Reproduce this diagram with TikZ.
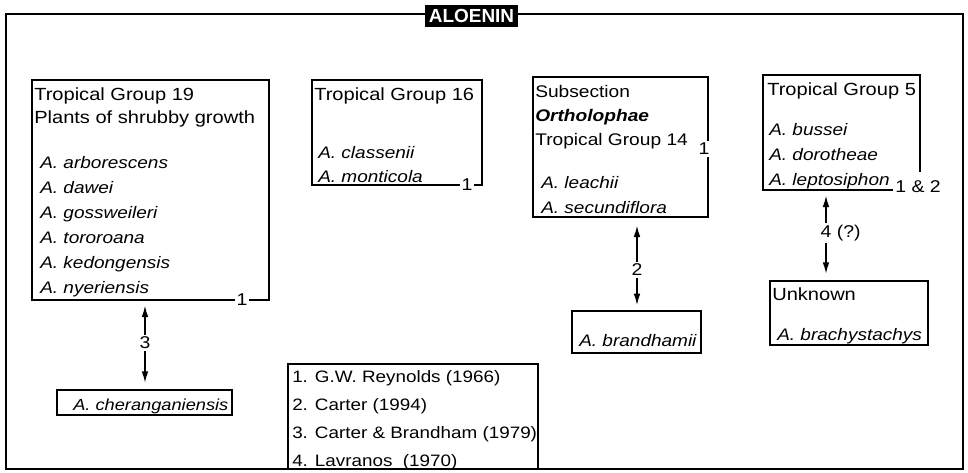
\documentclass[tikz,border=0pt]{standalone}
\usepackage{fontspec}
\setmainfont{Liberation Sans}[FakeStretch=1.14]
\newfontfamily\titlefont{Liberation Sans}
\usetikzlibrary{fit,arrows.meta}

\begin{document}
\begin{tikzpicture}
        [x=0.75pt,y=-0.75pt,
        box/.style={draw,line width=1pt,inner sep=0pt},
        txt/.style={anchor=base west,inner sep=0pt,align=left,font=\fontsize{13.2}{#1}\selectfont},
        species/.style={anchor=base west,inner sep=0pt,align=left,font=\fontsize{12.5}{#1}\selectfont\itshape},
        numlab/.style={fill=white,inner sep=1.5pt,font=\fontsize{12.8}{15}\selectfont},
        link/.style={line width=1pt,-{Latex[length=8.5pt,width=5pt]}}]
        \useasboundingbox (0,0) rectangle (968,472);
        \draw[line width=1.5pt] (6,14) rectangle (963,469);
        \node[fill=black,text=white,inner xsep=3pt,minimum height=17pt,
            font=\titlefont\bfseries\fontsize{14.2}{16}\selectfont] (title) at (471.5,16) {ALOENIN};
        % group boxes
        \node[box,fit={(32,80) (269,300)}] (g19) {};
        \node[box,fit={(312,80) (482,185)}] (g16) {};
        \node[box,fit={(533,77) (708,217)}] (g14) {};
        \node[box,fit={(763,75) (920,190)}] (g5) {};
        \node[box,fit={(57,390) (232,415)}] (cher) {};
        \node[box,fit={(572,311) (701,353)}] (brand) {};
        \node[box,fit={(770,281) (928,345)}] (unk) {};
        \node[box,fit={(288,364) (538,469)}] (refs) {};
        % texts (placed by the baseline of their last line)
        \node[txt=17.25pt] (g19h) at (34,123) {Tropical Group 19\\Plants of shrubby growth};
        \node[species=18.75pt] (g19s) at (40,293) {A. arborescens\\A. dawei\\A. gossweileri\\A. tororoana\\A. kedongensis\\A. nyeriensis};
        \node[txt=18pt] (g16h) at (314,100) {Tropical Group 16};
        \node[species=18pt] (g16s) at (318,182) {A. classenii\\A. monticola};
        \node[txt=18pt,font=\fontsize{12.6}{18}\selectfont] (g14h) at (535,145) {Subsection\\\textbf{\textit{Ortholophae}}\\Tropical Group 14};
        \node[species=18.75pt] (g14s) at (541,213) {A. leachii\\A. secundiflora};
        \node[txt=18pt] (g5h) at (767,95) {Tropical Group 5};
        \node[species=18.75pt] (g5s) at (769,185) {A. bussei\\A. dorotheae\\A. leptosiphon};
        \node[txt=18pt] (unkh) at (772,300) {Unknown};
        \node[species=18pt] (unks) at (777,340) {A. brachystachys};
        \node[species=18pt] (brands) at (579,346) {A. brandhamii};
        \node[species=18pt,font=\fontsize{12}{15}\selectfont\itshape] (chers) at (73,410) {A. cheranganiensis};
        \node[txt=20.8pt,font=\fontsize{12.4}{20.8}\selectfont] (refst) at (292,466) {1. G.W. Reynolds (1966)\\2. Carter (1994)\\3. Carter \& Brandham (1979)\\4. Lavranos\ \ (1970)};
        % reference numbers on the boxes
        \node[numlab] (n19) at (242,300) {1};
        \node[numlab] (n16) at (467,185) {1};
        \node[numlab] (n14) at (704,149) {1};
        \node[numlab,inner ysep=7pt] (n5) at (918,187) {1 \& 2};
        % links
        \node[numlab] (l3) at (145,343) {3};
        \node[numlab] (l2) at (637,270) {2};
        \node[numlab] (l4) at (826,233) {4\rlap{ (?)}};
        \draw[link,shorten >=3.75pt] (l3) -- (l3 |- g19.south);
        \draw[link,shorten >=5pt] (l3) -- (l3 |- cher.north);
        \draw[link,shorten >=6pt] (l2) -- (l2 |- g14.south);
        \draw[link,shorten >=4pt] (l2) -- (l2 |- brand.north);
        \draw[link,shorten >=3.75pt] (l4) -- (l4 |- g5.south);
        \draw[link,shorten >=5pt] (l4) -- (l4 |- unk.north);
    \end{tikzpicture}
\end{document}
